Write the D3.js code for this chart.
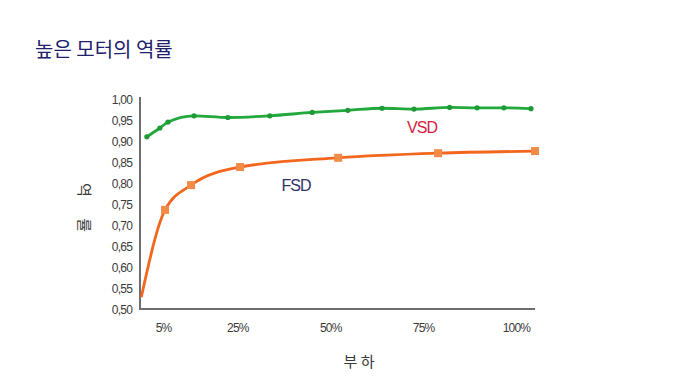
<!DOCTYPE html>
<html><head><meta charset="utf-8">
<script src="https://cdn.jsdelivr.net/npm/d3@7"></script>
<style>
html,body{margin:0;padding:0;background:#fff;}
svg{display:block;}
</style></head>
<body>
<svg id="chart" width="681" height="380"></svg>
<script>
const title = "높은 모터의 역률";
const yLabel = "역 률";
const xLabel = "부 하";
const xTicks = [5, 25, 50, 75, 100];
const yTicks = [0.50,0.55,0.60,0.65,0.70,0.75,0.80,0.85,0.90,0.95,1.00];
const vsdLoad = [0.5, 4, 6.2, 13.2, 22.3, 33.6, 45, 54.6, 63.8, 72.4, 82, 89.4, 96.6, 103.9];
const vsdPF   = [0.910, 0.931, 0.945, 0.960, 0.956, 0.960, 0.968, 0.973, 0.978, 0.976, 0.980, 0.979, 0.979, 0.977];
const fsdLoad = [-1, 5.4, 12.4, 25.6, 52, 78.9, 105];
const fsdPF   = [0.528, 0.736, 0.795, 0.838, 0.860, 0.871, 0.876];
const seriesNames = ["VSD", "FSD"];

const svg = d3.select("#chart");
const x = d3.scaleLinear().domain([0, 100]).range([145, 516.5]);
const y = d3.scaleLinear().domain([0.5, 1.0]).range([309, 99]);

svg.append("text").attr("x", 35).attr("y", 57)
  .attr("font-family", "'Noto Sans CJK KR', sans-serif").attr("font-size", 20)
  .attr("fill", "#20206b").text(title);

// axes lines
svg.append("line").attr("x1", x(-1.35)).attr("x2", x(-1.35)).attr("y1", y(1.005)).attr("y2", y(0.5))
  .attr("stroke", "#6e6e6e").attr("stroke-width", 2);
svg.append("line").attr("x1", x(-1.35)-1).attr("x2", x(105)).attr("y1", y(0.5)).attr("y2", y(0.5))
  .attr("stroke", "#6e6e6e").attr("stroke-width", 2);

// y ticks
const fmt = v => v.toFixed(2).replace(".", ",");
svg.append("g").selectAll("text").data(yTicks).join("text")
  .attr("x", 132).attr("y", d => y(d) + 4.5)
  .attr("text-anchor", "end")
  .attr("font-family", "'Liberation Sans', Arial, sans-serif").attr("font-size", 12)
  .attr("letter-spacing", -0.8).attr("fill", "#3a3a3a")
  .text(fmt);

// x ticks
svg.append("g").selectAll("text").data(xTicks).join("text")
  .attr("x", d => x(d)).attr("y", 332)
  .attr("text-anchor", "middle")
  .attr("font-family", "'Liberation Sans', Arial, sans-serif").attr("font-size", 12)
  .attr("letter-spacing", -0.8).attr("fill", "#3a3a3a")
  .text(d => d + "%");

// axis labels
svg.append("text").attr("x", 359).attr("y", 367).attr("text-anchor", "middle")
  .attr("font-family", "'Noto Sans CJK KR', sans-serif").attr("font-size", 15)
  .attr("fill", "#3a3a3a").text(xLabel);
svg.append("text").attr("transform", "translate(79,212) rotate(90)").attr("text-anchor", "middle")
  .attr("font-family", "'Noto Sans CJK KR', sans-serif").attr("font-size", 15)
  .attr("letter-spacing", 9)
  .attr("fill", "#3a3a3a").text(yLabel);

const line = d3.line().curve(d3.curveMonotoneX).x(d => x(d[0])).y(d => y(d[1]));
const vsd = vsdLoad.map((d, i) => [d, vsdPF[i]]);
const fsd = fsdLoad.map((d, i) => [d, fsdPF[i]]);

svg.append("path").datum(vsd).attr("d", line).attr("fill", "none")
  .attr("stroke", "#22a83c").attr("stroke-width", 2.8);
svg.append("g").selectAll("circle").data(vsd).join("circle")
  .attr("cx", d => x(d[0])).attr("cy", d => y(d[1])).attr("r", 2.6).attr("fill", "#1f9a36");

svg.append("path").datum(fsd).attr("d", line).attr("fill", "none")
  .attr("stroke", "#f2661e").attr("stroke-width", 2.8);
svg.append("g").selectAll("rect").data(fsd.slice(1)).join("rect")
  .attr("x", d => x(d[0]) - 4).attr("y", d => y(d[1]) - 4).attr("width", 8).attr("height", 8)
  .attr("fill", "#f28a48");

// series labels
svg.append("text").attr("x", 422).attr("y", 133).attr("text-anchor", "middle")
  .attr("font-family", "'Liberation Sans', Arial, sans-serif").attr("font-size", 16)
  .attr("letter-spacing", -1).attr("fill", "#d42040").text(seriesNames[0]);
svg.append("text").attr("x", 296).attr("y", 191).attr("text-anchor", "middle")
  .attr("font-family", "'Liberation Sans', Arial, sans-serif").attr("font-size", 16)
  .attr("letter-spacing", -1).attr("fill", "#2e3168").text(seriesNames[1]);
</script>
</body></html>
